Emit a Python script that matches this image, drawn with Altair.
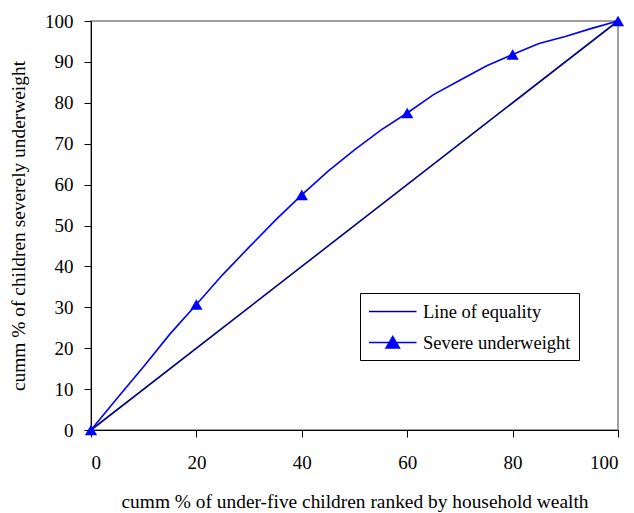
import altair as alt
import pandas as pd

# Data
equality_x = [0, 100]
equality_y = [0, 100]

severe_x = [0, 5, 10, 15, 20, 25, 30, 35, 40, 45, 50, 55, 60, 65, 70, 75, 80, 85, 90, 95, 100]
severe_y = [0, 7.8, 15.5, 23.5, 30.7, 38.0, 44.7, 51.3, 57.5, 63.3, 68.5, 73.3, 77.5, 82.0, 85.5, 89.0, 91.8, 94.5, 96.2, 98.2, 100]

marker_x = [0, 20, 40, 60, 80, 100]

series_names = ["Line of equality", "Severe underweight"]
series_colors = ["#000080", "#0000FF"]

x_ticks = [0, 20, 40, 60, 80, 100]
y_ticks = [0, 10, 20, 30, 40, 50, 60, 70, 80, 90, 100]

FONT = "Liberation Serif, DejaVu Serif, serif"

lines_df = pd.DataFrame(
    [{"series": series_names[0], "x": a, "y": b} for a, b in zip(equality_x, equality_y)]
    + [{"series": series_names[1], "x": a, "y": b} for a, b in zip(severe_x, severe_y)]
)
markers_df = pd.DataFrame(
    [{"x": a, "y": b} for a, b in zip(severe_x, severe_y) if a in marker_x]
)

# legend symbol paths (unit = half of the 19px symbol box)
line_path = "M-1,0H4"
combo_path = "M-1,0H4M1.5,-0.62L2.2,0.58L0.8,0.58Z"

x_enc = alt.X(
    "x:Q",
    scale=alt.Scale(domain=[0, 100], nice=False),
    axis=alt.Axis(
        values=x_ticks,
        title="cumm % of under-five children ranked by household wealth",
        labelPadding=16,
        titlePadding=20,
    ),
)
y_enc = alt.Y(
    "y:Q",
    scale=alt.Scale(domain=[0, 100], nice=False),
    axis=alt.Axis(
        values=y_ticks,
        title="cumm % of children severely underweight",
        labelPadding=11,
        titlePadding=16,
    ),
)


def make_legend():
    return alt.Legend(
        title=None,
        orient="none",
        legendX=269,
        legendY=272,
        direction="vertical",
        fillColor="white",
        strokeColor="black",
        padding=8,
        rowPadding=11,
        symbolSize=361,
        symbolStrokeWidth=1.6,
        symbolOpacity=1,
        symbolOffset=0,
        labelOffset=34,
    )


series_scale = alt.Scale(domain=series_names, range=series_colors)

lines = alt.Chart(lines_df).mark_line(strokeWidth=1.6).encode(
    x=x_enc,
    y=y_enc,
    stroke=alt.Stroke("series:N", scale=series_scale, legend=make_legend()),
)

points = alt.Chart(markers_df).mark_point(
    shape="triangle-up", filled=True, size=150, opacity=1, color=series_colors[1]
).encode(x="x:Q", y="y:Q")

# legend-only layer (no rows): combines line + triangle symbol for the legend
legend_layer = alt.Chart(alt.Data(values=[])).mark_point(
    filled=True, size=361, strokeWidth=1.6
).encode(
    x="x:Q",
    y="y:Q",
    stroke=alt.Stroke("series:N", scale=series_scale, legend=make_legend()),
    fill=alt.Fill("series:N", scale=series_scale, legend=make_legend()),
    shape=alt.Shape(
        "series:N",
        scale=alt.Scale(domain=series_names, range=[line_path, combo_path]),
        legend=make_legend(),
    ),
)

chart = (
    alt.layer(lines, points, legend_layer)
    .properties(
        width=527,
        height=409,
        autosize=alt.AutoSizeParams(type="none"),
        padding={"left": 83, "top": 13, "right": 8, "bottom": 83},
        background="white",
    )
    .configure_view(stroke="#808080", strokeWidth=1.5)
    .configure_axis(
        grid=False,
        domainColor="black",
        tickColor="black",
        tickSize=7,
        labelFont=FONT,
        labelFontSize=19,
        labelColor="black",
        titleFont=FONT,
        titleFontSize=19.4,
        titleFontWeight="normal",
        titleColor="black",
    )
    .configure_legend(
        labelFont=FONT,
        labelFontSize=18.5,
        labelColor="black",
    )
)

chart.save("out.html", embed_options={"renderer": "svg", "actions": False})
